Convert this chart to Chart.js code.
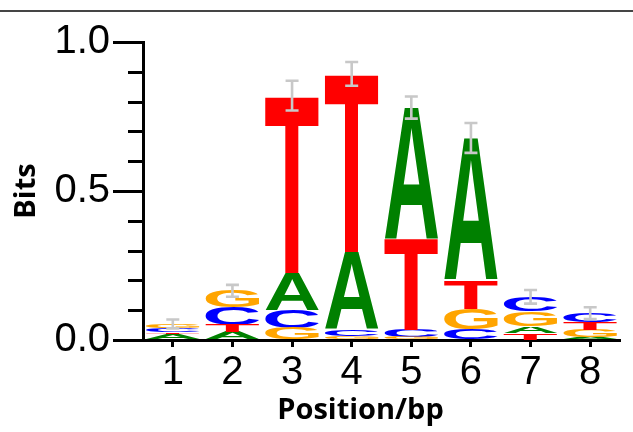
<!DOCTYPE html>
<html>
<head>
<meta charset="utf-8">
<script src="https://cdn.jsdelivr.net/npm/chart.js@4.4.1/dist/chart.umd.min.js"></script>
<style>
  html, body { margin: 0; padding: 0; background: #fff; }
  #wrap { position: relative; width: 633px; height: 432px; }
  #wrap canvas { position: absolute; left: 0; top: 0; }
  #rule { position: absolute; left: 0; top: 10px; width: 633px; height: 2px; background: #454545; }
</style>
</head>
<body>
<div id="wrap">
  <canvas id="logo" width="633" height="432"></canvas>
  <div id="rule"></div>
</div>
<script>
// ── Sequence logo data (bits per base, per position) ─────
const POSITIONS = ["1", "2", "3", "4", "5", "6", "7", "8"];
const BASES = ["A", "C", "G", "T"];
const BITS_A = [0.020, 0.026, 0.125, 0.260, 0.440, 0.478, 0.023, 0.010];
const BITS_C = [0.015, 0.060, 0.060, 0.023, 0.025, 0.035, 0.050, 0.030];
const BITS_G = [0.014, 0.055, 0.040, 0.012, 0.010, 0.070, 0.050, 0.025];
const BITS_T = [0.005, 0.024, 0.595, 0.598, 0.305, 0.095, 0.022, 0.025];
// stacking order, bottom -> top
const STACK_ORDER = ["ATCG", "ATCG", "GCAT", "GCAT", "GCTA", "CGTA", "TAGC", "AGTC"];
const ERR = [0.015, 0.02, 0.05, 0.04, 0.037, 0.05, 0.023, 0.02];
const Y_TICKS = [0, 0.5, 1.0];

const LETTER_COLORS = { A: "#008000", C: "#0000ff", G: "#ffa500", T: "#ff0000" };
const heights = { A: BITS_A, C: BITS_C, G: BITS_G, T: BITS_T };

function rangesFor(base) {
  return POSITIONS.map((_, i) => {
    let lo = 0;
    for (const b of STACK_ORDER[i]) {
      if (b === base) return [lo, lo + heights[b][i]];
      lo += heights[b][i];
    }
    return [0, 0];
  });
}
const tops = POSITIONS.map((_, i) => BASES.reduce((s, b) => s + heights[b][i], 0));
const isMajor = (v) => Y_TICKS.some((t) => Math.abs(t - v) < 1e-6);

// letters are stretched into each (transparent) bar rectangle
const glyphPlugin = {
  id: "glyphs",
  afterDatasetsDraw(chart) {
    const ctx = chart.ctx;
    ctx.save();
    ctx.font = "bold 200px 'Liberation Sans', Arial, sans-serif";
    ctx.textAlign = "left";
    ctx.textBaseline = "alphabetic";
    chart.data.datasets.forEach((ds, di) => {
      const m = ctx.measureText(ds.label);
      const gw = m.actualBoundingBoxLeft + m.actualBoundingBoxRight;
      const gh = m.actualBoundingBoxAscent + m.actualBoundingBoxDescent;
      chart.getDatasetMeta(di).data.forEach((bar) => {
        const { x, y, base, width } = bar.getProps(["x", "y", "base", "width"], true);
        const h = base - y;
        if (h <= 0.1) return;
        ctx.save();
        ctx.translate(x - width / 2, y);
        ctx.scale(width / gw, h / gh);
        ctx.fillStyle = ds.glyphColor;
        ctx.fillText(ds.label, m.actualBoundingBoxLeft, m.actualBoundingBoxAscent);
        ctx.restore();
      });
    });
    ctx.restore();
  },
};

const errorPlugin = {
  id: "errbars",
  afterDatasetsDraw(chart) {
    const { ctx, scales: { x, y } } = chart;
    ctx.save();
    ctx.strokeStyle = "#c8c8c8";
    ctx.lineWidth = 2.6;
    tops.forEach((t, i) => {
      const cx = x.getPixelForValue(i);
      const y1 = y.getPixelForValue(t + ERR[i]);
      const y2 = y.getPixelForValue(t - ERR[i]);
      ctx.beginPath();
      ctx.moveTo(cx, y1); ctx.lineTo(cx, y2);
      ctx.moveTo(cx - 6.5, y1); ctx.lineTo(cx + 6.5, y1);
      ctx.moveTo(cx - 6.5, y2); ctx.lineTo(cx + 6.5, y2);
      ctx.stroke();
    });
    ctx.restore();
  },
};

// minor y ticks (shorter) + x axis title
const axisExtras = {
  id: "axisExtras",
  afterDraw(chart) {
    const { ctx, chartArea, scales: { y } } = chart;
    ctx.save();
    ctx.strokeStyle = "#000";
    ctx.lineWidth = 3;
    y.ticks.forEach((tk) => {
      if (isMajor(tk.value)) return;
      const py = Math.round(y.getPixelForValue(tk.value)) + 0.5;
      ctx.beginPath();
      ctx.moveTo(chartArea.left - 15, py);
      ctx.lineTo(chartArea.left, py);
      ctx.stroke();
    });
    ctx.fillStyle = "#000";
    ctx.font = "bold 29px 'Open Sans', sans-serif";
    ctx.textAlign = "center";
    ctx.textBaseline = "alphabetic";
    ctx.fillText("Position/bp", 360.5, 419);
    ctx.restore();
  },
};

new Chart(document.getElementById("logo"), {
  type: "bar",
  data: {
    labels: POSITIONS,
    datasets: BASES.map((b) => ({
      label: b,
      data: rangesFor(b),
      glyphColor: LETTER_COLORS[b],
      backgroundColor: "rgba(0,0,0,0)",
      borderWidth: 0,
      grouped: false,
      barPercentage: 0.9,
      categoryPercentage: 1.0,
    })),
  },
  options: {
    responsive: false,
    animation: false,
    events: [],
    layout: { padding: { top: 42, right: 13, left: 0, bottom: 0 } },
    plugins: { legend: { display: false }, tooltip: { enabled: false } },
    scales: {
      x: {
        type: "category",
        offset: true,
        grid: { offset: false, drawOnChartArea: false, tickLength: 7, tickWidth: 3, tickColor: "#000" },
        border: { width: 3, color: "#000" },
        ticks: {
          color: "#000",
          padding: 2,
          maxRotation: 0,
          autoSkip: false,
          font: { size: 40, family: "'Liberation Sans', Arial, sans-serif" },
        },
        afterFit: (s) => { s.height = 92; },
      },
      y: {
        min: 0,
        max: 1,
        grid: {
          drawOnChartArea: false,
          tickLength: 30,
          tickWidth: 3,
          tickColor: (c) => (c.tick && isMajor(c.tick.value) ? "#000" : "rgba(0,0,0,0)"),
        },
        border: { width: 3, color: "#000" },
        ticks: {
          stepSize: 0.1,
          autoSkip: false,
          padding: 3,
          color: "#000",
          font: { size: 40, family: "'Liberation Sans', Arial, sans-serif" },
          callback: (v) => (isMajor(v) ? v.toFixed(1) : ""),
        },
        title: {
          display: true,
          text: "Bits",
          color: "#000",
          font: { size: 29, weight: "bold", family: "'Open Sans', sans-serif" },
          padding: { top: 9, bottom: 0 },
        },
        afterFit: (s) => { s.width = 143; },
      },
    },
  },
  plugins: [glyphPlugin, errorPlugin, axisExtras],
});
</script>
</body>
</html>
